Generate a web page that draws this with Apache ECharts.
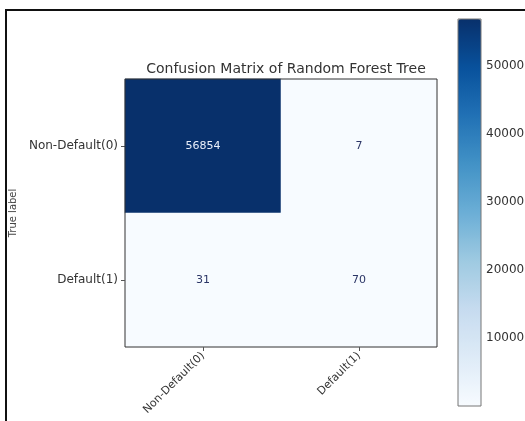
<!DOCTYPE html>
<html>
<head>
<meta charset="utf-8">
<script src="https://cdn.jsdelivr.net/npm/echarts@6/dist/echarts.min.js"></script>
<style>
  html, body { margin: 0; padding: 0; background: #fff; }
  #chart { width: 525px; height: 421px; }
</style>
</head>
<body>
<div id="chart"></div>
<script>
// confusion matrix values
const predLabels = ['Non-Default(0)', 'Default(1)'];
const trueLabels = ['Non-Default(0)', 'Default(1)'];
const matrix = [
  [56854, 7],
  [31, 70]
];
const colorbarTicks = [10000, 20000, 30000, 40000, 50000];

const vmin = 7;
const vmax = 56854;
const blues = ['#f7fbff', '#deebf7', '#c6dbef', '#9ecae1', '#6baed6', '#4292c6', '#2171b5', '#08519c', '#08306b'];

const cells = [];
matrix.forEach((row, i) => {
  row.forEach((v, j) => {
    cells.push({
      value: [j, i, v],
      label: { color: v > vmax / 2 ? '#e8eefa' : '#2b3566' }
    });
  });
});

const chart = echarts.init(document.getElementById('chart'));
const option = {
  animation: false,
  title: {
    text: 'Confusion Matrix of Random Forest Tree',
    left: 281,
    top: 57,
    textAlign: 'center',
    textStyle: { fontFamily: 'DejaVu Sans', fontSize: 14, fontWeight: 'normal', color: '#333' }
  },
  grid: [
    { left: 125, top: 79, width: 312, height: 268, show: true, borderColor: '#333', borderWidth: 1, z: 5, outerBoundsMode: 'none' },
    { left: 458, top: 19, width: 23, height: 387, show: true, borderColor: '#777', borderWidth: 1, backgroundColor: 'transparent', z: 10, outerBoundsMode: 'none' }
  ],
  xAxis: [
    {
      type: 'category', gridIndex: 0, data: predLabels,
      axisLine: { show: false },
      axisTick: { show: true, alignWithLabel: true, length: 4, lineStyle: { color: '#555' } },
      splitLine: { show: false },
      axisLabel: { rotate: 45, fontFamily: 'DejaVu Sans', fontSize: 11, color: '#333', margin: 7 },
      name: 'Predicted label', nameLocation: 'middle', nameGap: 69,
      nameTextStyle: { fontFamily: 'DejaVu Sans', fontSize: 11, color: '#333' }
    },
    { type: 'value', gridIndex: 1, show: false, min: 0, max: 1 }
  ],
  yAxis: [
    {
      type: 'category', gridIndex: 0, data: trueLabels, inverse: true,
      axisLine: { show: false },
      axisTick: { show: true, alignWithLabel: true, length: 4, lineStyle: { color: '#555' } },
      splitLine: { show: false },
      axisLabel: { fontFamily: 'DejaVu Sans', fontSize: 12, color: '#333', margin: 7 },
      name: 'True label', nameLocation: 'middle', nameGap: 107, nameRotate: 90,
      nameTextStyle: { fontFamily: 'DejaVu Sans', fontSize: 10, color: '#444' }
    },
    {
      type: 'value', gridIndex: 1, position: 'right', min: 0, max: vmax, interval: 10000,
      axisLine: { show: false },
      axisTick: { show: true, length: 4, lineStyle: { color: '#555' } },
      splitLine: { show: false },
      axisLabel: {
        showMinLabel: false, showMaxLabel: false, margin: 5,
        fontFamily: 'DejaVu Sans', fontSize: 12, color: '#333',
        formatter: v => colorbarTicks.includes(v) ? String(v) : ''
      }
    }
  ],
  visualMap: {
    type: 'continuous',
    min: vmin,
    max: vmax,
    seriesIndex: 0,
    calculable: false,
    text: ['', ''],
    showLabel: false,
    left: 458,
    top: 19,
    padding: 0,
    itemWidth: 23,
    itemHeight: 387,
    inRange: { color: blues }
  },
  graphic: [
    { type: 'line', shape: { x1: 5, y1: 10, x2: 525, y2: 10 }, style: { stroke: '#111', lineWidth: 2 } },
    { type: 'line', shape: { x1: 6, y1: 9, x2: 6, y2: 421 }, style: { stroke: '#111', lineWidth: 2 } }
  ],
  series: [
    {
      type: 'heatmap',
      xAxisIndex: 0,
      yAxisIndex: 0,
      data: cells,
      label: { show: true, fontFamily: 'DejaVu Sans', fontSize: 11 },
      itemStyle: { borderWidth: 0 }
    },
    { type: 'scatter', xAxisIndex: 1, yAxisIndex: 1, data: [] }
  ]
};
chart.setOption(option);
</script>
</body>
</html>
